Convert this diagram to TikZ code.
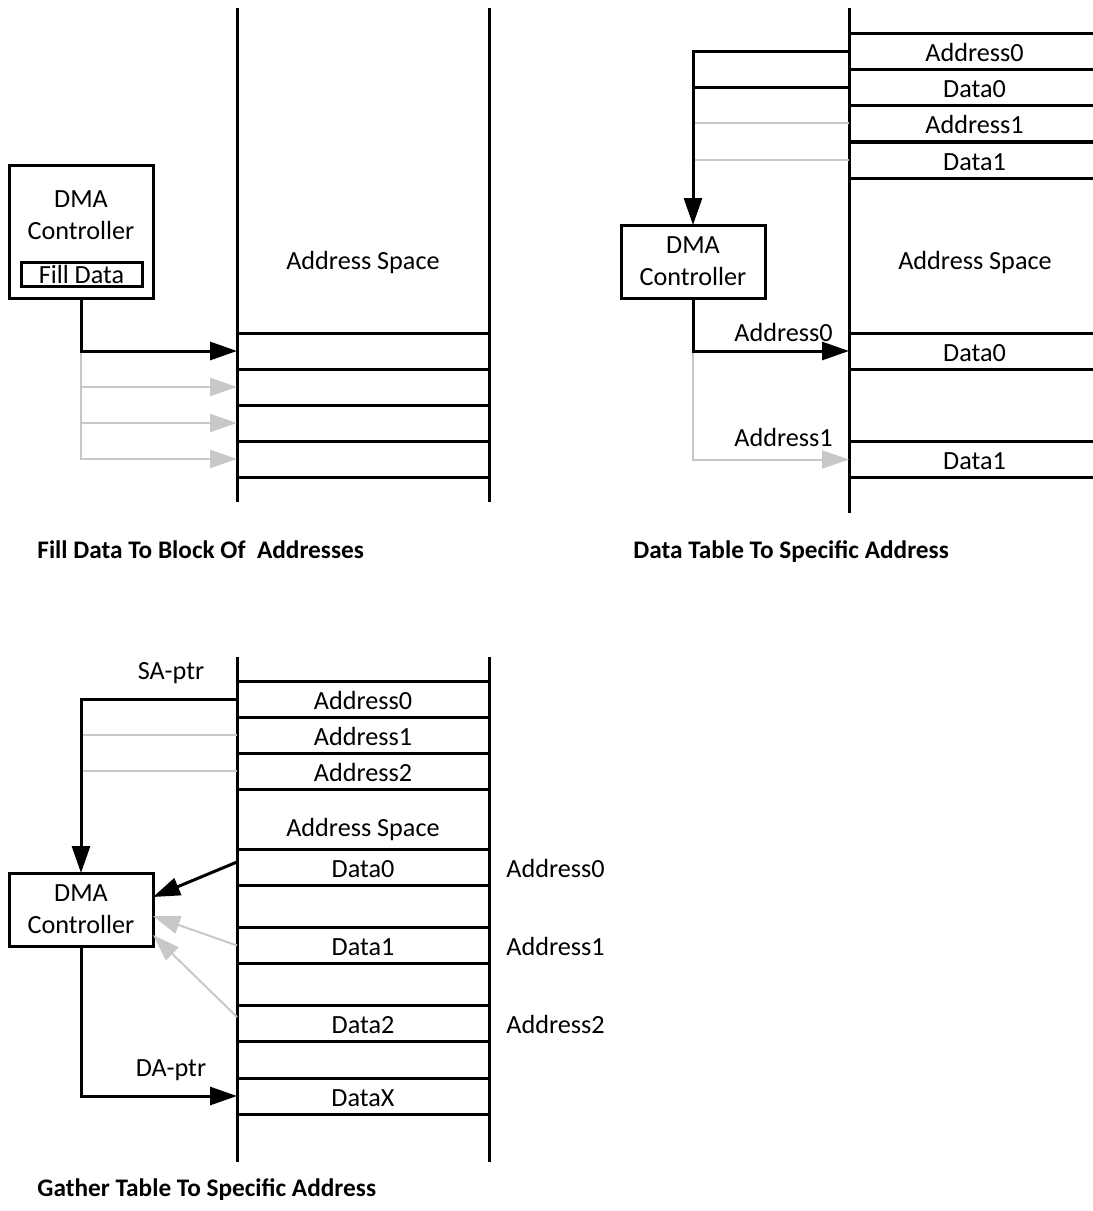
\documentclass[tikz,border=0pt]{standalone}
\usepackage{fontspec}
\setmainfont{Carlito}
\usetikzlibrary{arrows.meta, positioning, calc}
\definecolor{softgray}{RGB}{200,200,200}
\newcommand{\diafont}{\fontsize{13.1}{16}\selectfont}
\tikzset{
    cell/.style={rectangle, draw, line width=1.5pt, minimum width=126pt, minimum height=18pt, inner sep=0pt, outer sep=0pt, text height=10.3pt, text depth=0pt, font=\diafont},
    widecell/.style={cell, minimum width=125.5pt},
    ctrl/.style={rectangle, draw, line width=1.5pt, minimum width=72pt, minimum height=36.5pt, inner sep=0pt, outer sep=0pt, align=center, font=\diafont},
    txt/.style={inner sep=0pt, text height=10.3pt, text depth=0pt, text=black, font=\diafont},
    title/.style={anchor=base west, inner sep=0pt, font=\fontsize{12.65}{15}\selectfont\bfseries},
    wall/.style={line width=1.5pt},
    link/.style={line width=1.5pt},
    glink/.style={line width=1pt, draw=softgray},
    arrow/.style={-{Triangle[length=13.5pt, width=9pt]}, line width=1.5pt},
    garrow/.style={-{Triangle[length=13.5pt, width=9pt]}, line width=1pt, draw=softgray},
}
\begin{document}
\begin{tikzpicture}[x=0.5pt, y=-0.5pt]
    \useasboundingbox (0,0) rectangle (1093,1211);

    % Fill data to block of addresses
    \draw[wall] (237,8) -- (237,502);
    \draw[wall] (489,8) -- (489,502);
    \node[txt] (spaceA) at (363,259) {Address Space};
    \node[cell] (r1) at (363,351) {};
    \node[cell] (r2) at (363,387) {};
    \node[cell] (r3) at (363,423) {};
    \node[cell] (r4) at (363,459) {};
    \node[ctrl, minimum height=66.5pt] (dmaA) at (81,231.5) {};
    \node[inner sep=0pt, align=center, font=\diafont] (dmaAlbl) at (81,215.5) {DMA\\Controller};
    \node[ctrl, minimum width=60.5pt, minimum height=12pt] (fillA) at (81.5,274) {Fill Data};
    \coordinate (jA) at (dmaA.south |- r1.west);
    \draw[garrow] (jA) |- (r2.west);
    \draw[garrow] (jA) |- (r3.west);
    \draw[garrow] (jA) |- (r4.west);
    \draw[arrow] (dmaA.south) |- (r1.west);
    \node[title] (titleA) at (37,558) {Fill Data To Block Of~~Addresses};

    % Data table to specific address
    \draw[wall] (849,8) -- (849,513);
    \node[widecell] (t1) at (974.5,51) {Address0};
    \node[widecell] (t2) at (974.5,87) {Data0};
    \node[widecell] (t3) at (974.5,123) {Address1};
    \node[widecell] (t4) at (974.5,160) {Data1};
    \node[txt] (spaceB) at (975,259) {Address Space};
    \node[widecell] (u1) at (974.5,351) {Data0};
    \node[widecell] (u2) at (974.5,459.5) {Data1};
    \node[ctrl] (dmaB) at (693,261.5) {DMA\\Controller};
    \draw[glink] (t3.west) -- (t3.west -| dmaB.north);
    \draw[glink] (t4.west) -- (t4.west -| dmaB.north);
    \draw[link] (t2.west) -- (t2.west -| dmaB.north);
    \draw[arrow] (t1.west) -| (dmaB.north);
    \coordinate (jB) at (dmaB.south |- u1.west);
    \draw[garrow] (jB) |- (u2.west) node[txt, pos=0.79, above=6.25pt] {Address1};
    \draw[arrow] (dmaB.south) |- (u1.west) node[txt, pos=0.79, above=4pt] {Address0};
    \node[title] (titleB) at (633,558) {Data Table To Specific Address};

    % Gather table to specific address
    \draw[wall] (237,657) -- (237,1162);
    \draw[wall] (489,657) -- (489,1162);
    \node[cell] (ad0) at (363,699) {Address0};
    \node[cell] (ad1) at (363,735) {Address1};
    \node[cell] (ad2) at (363,771) {Address2};
    \node[txt] (spaceC) at (363,826) {Address Space};
    \node[cell] (e0) at (363,867.5) {Data0};
    \node[cell] (e1) at (363,945.5) {Data1};
    \node[cell] (e2) at (363,1023) {Data2};
    \node[cell] (ex) at (363,1096) {DataX};
    \node[txt, right=8.5pt of e0] (la0) {Address0};
    \node[txt, right=8.5pt of e1] (la1) {Address1};
    \node[txt, right=8.5pt of e2] (la2) {Address2};
    \node[txt] (saptr) at (171,669) {SA-ptr};
    \node[txt] (daptr) at (171,1066) {DA-ptr};
    \node[ctrl] (dmaC) at (81,909.5) {DMA\\Controller};
    \draw[glink] (ad1.west) -- (ad1.west -| dmaC.north);
    \draw[glink] (ad2.west) -- (ad2.west -| dmaC.north);
    \draw[arrow] (ad0.west) -| (dmaC.north);
    \draw[garrow] (e1.west) -- ([yshift=-3.25pt]dmaC.east);
    \draw[garrow] ([yshift=3pt]e2.west) -- ([yshift=-12.75pt]dmaC.east);
    \draw[arrow] ([yshift=2.75pt]e0.west) -- ([yshift=6.25pt]dmaC.east);
    \draw[arrow] (dmaC.south) |- (ex.west);
    \node[title] (titleC) at (37,1196.5) {Gather Table To Specific Address};
\end{tikzpicture}
\end{document}
